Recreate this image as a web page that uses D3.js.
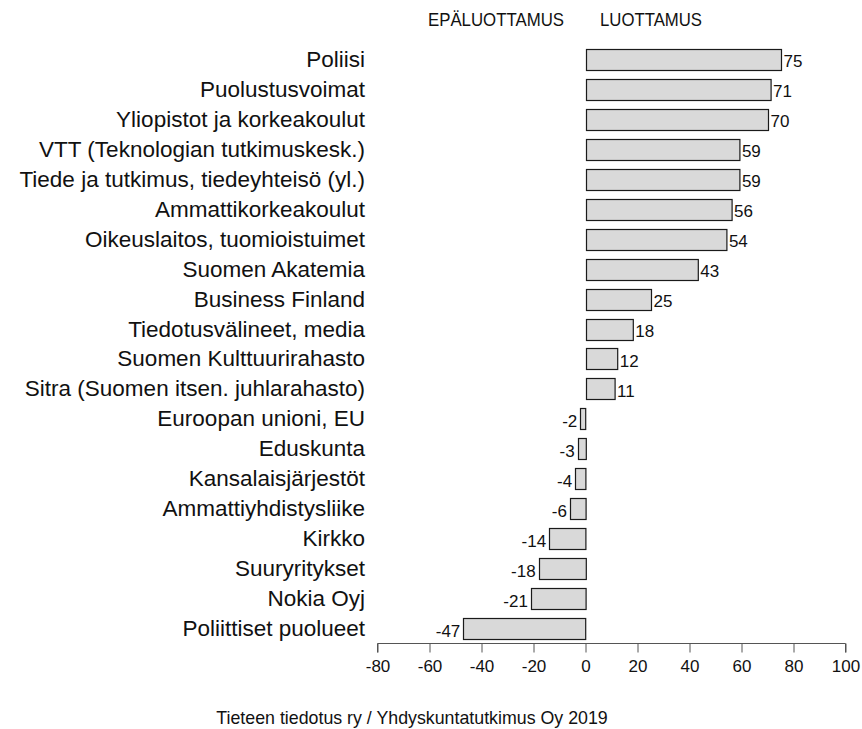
<!DOCTYPE html>
<html>
<head>
<meta charset="utf-8">
<script src="https://cdn.jsdelivr.net/npm/d3@7"></script>
<style>
  body { margin: 0; background: #fff; }
  svg { display: block; font-family: "Liberation Sans", Arial, sans-serif; }
</style>
</head>
<body>
<div id="vis"></div>
<script>
const width = 862;
const height = 729;

const categories = [
  "Poliisi",
  "Puolustusvoimat",
  "Yliopistot ja korkeakoulut",
  "VTT (Teknologian tutkimuskesk.)",
  "Tiede ja tutkimus, tiedeyhteisö (yl.)",
  "Ammattikorkeakoulut",
  "Oikeuslaitos, tuomioistuimet",
  "Suomen Akatemia",
  "Business Finland",
  "Tiedotusvälineet, media",
  "Suomen Kulttuurirahasto",
  "Sitra (Suomen itsen. juhlarahasto)",
  "Euroopan unioni, EU",
  "Eduskunta",
  "Kansalaisjärjestöt",
  "Ammattiyhdistysliike",
  "Kirkko",
  "Suuryritykset",
  "Nokia Oyj",
  "Poliittiset puolueet"
];
const values = [75, 71, 70, 59, 59, 56, 54, 43, 25, 18, 12, 11, -2, -3, -4, -6, -14, -18, -21, -47];
const xTicks = [-80, -60, -40, -20, 0, 20, 40, 60, 80, 100];
const headers = ["EPÄLUOTTAMUS", "LUOTTAMUS"];
const footer = "Tieteen tiedotus ry / Yhdyskuntatutkimus Oy 2019";

const data = categories.map((c, i) => ({ name: c, value: values[i] }));

const svg = d3.select("#vis")
  .append("svg")
  .attr("width", width)
  .attr("height", height);

const x = d3.scaleLinear().domain([-80, 100]).range([377.5, 845.5]);
const y = d3.scaleBand()
  .domain(categories)
  .range([44.5, 643.5])
  .paddingInner(0.3)
  .paddingOuter(0.15);

// bars
svg.selectAll("rect.bar")
  .data(data)
  .join("rect")
  .attr("class", "bar")
  .attr("x", d => Math.round(x(Math.min(0, d.value))) + 0.5)
  .attr("y", d => Math.round(y(d.name)) + 0.5)
  .attr("width", d => Math.abs(x(d.value) - x(0)))
  .attr("height", Math.round(y.bandwidth()))
  .attr("fill", "#d9d9d9")
  .attr("stroke", "#1a1a1a")
  .attr("stroke-width", 1.2);

// value labels
svg.selectAll("text.val")
  .data(data)
  .join("text")
  .attr("class", "val")
  .attr("x", d => d.value >= 0 ? x(d.value) + 3 : x(d.value) - 3)
  .attr("y", d => y(d.name) + y.bandwidth() / 2 + 8)
  .attr("text-anchor", d => d.value >= 0 ? "start" : "end")
  .attr("font-size", 17)
  .attr("fill", "#111")
  .text(d => d.value);

// category labels
svg.selectAll("text.cat")
  .data(data)
  .join("text")
  .attr("class", "cat")
  .attr("x", 365)
  .attr("y", d => y(d.name) + y.bandwidth() / 2 + 7.5)
  .attr("text-anchor", "end")
  .attr("font-size", 22.5)
  .attr("fill", "#111")
  .text(d => d.name);

// x axis
const axis = svg.append("g")
  .attr("transform", "translate(0,643.5)")
  .call(d3.axisBottom(x).tickValues(xTicks).tickSize(9).tickPadding(7).tickFormat(d => String(d)));
axis.select(".domain").attr("stroke", "#555").attr("d", `M${x(-80)},9V0H${x(100)}V9`);
axis.selectAll(".tick line").attr("stroke", "#555");
axis.selectAll(".tick text")
  .attr("font-size", 17)
  .attr("font-family", "Liberation Sans, Arial, sans-serif")
  .attr("fill", "#111");

// headers
svg.append("text")
  .attr("x", 564)
  .attr("y", 26)
  .attr("text-anchor", "end")
  .attr("font-size", 19)
  .attr("textLength", 136)
  .attr("lengthAdjust", "spacingAndGlyphs")
  .attr("fill", "#111")
  .text(headers[0]);
svg.append("text")
  .attr("x", 600)
  .attr("y", 26)
  .attr("font-size", 19)
  .attr("textLength", 102)
  .attr("lengthAdjust", "spacingAndGlyphs")
  .attr("fill", "#111")
  .text(headers[1]);

// footer
svg.append("text")
  .attr("x", 412)
  .attr("y", 724)
  .attr("text-anchor", "middle")
  .attr("font-size", 17.8)
  .attr("fill", "#111")
  .text(footer);
</script>
</body>
</html>
